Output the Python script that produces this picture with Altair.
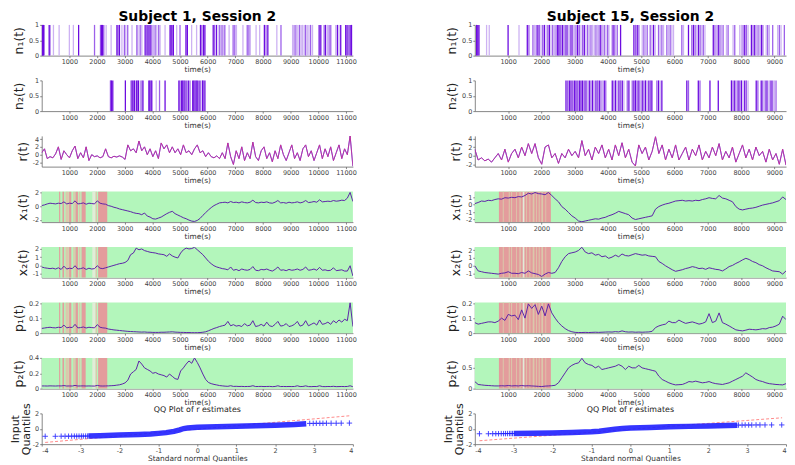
import altair as alt
import numpy as np
import pandas as pd

FONT = "DejaVu Sans"
W, H = 314, 31
GREEN = "#b3f6bb"
RED = "#e39c9c"
MIX = "#dbc8ab"
PALE = "#e2ecd8"
LINE = "#5c22a8"
BLUE = "#3535ff"
PINK = "#ff2f6e"
SPIKE_COLORS = ["#6c0ce0", "#9d60ea", "#cdb2f3"]

# ---------------- Subject 1, Session 2 ----------------
L_TMAX = 11250
L_XTICKS = [1000, 2000, 3000, 4000, 5000, 6000, 7000, 8000, 9000, 10000, 11000]

L_N1_T = [30, 60, 90, 270, 300, 425, 630, 1000, 1145, 1335, 1910, 2125, 2160, 2200, 2245, 2330, 2510,
          2720, 2760, 2810, 2900, 2990, 3040, 3110, 3265, 3440, 3480, 3560, 3620, 3740, 3790, 3840,
          3880, 3920, 3980, 4040, 4100, 4160, 4230, 4280, 4460, 4640, 4680, 4720, 4760, 4880, 5000,
          5215, 5265, 5420, 5600, 5740, 5790, 5850, 5900, 6200, 6250, 6320, 6420, 6470, 6520, 6580,
          6620, 6775, 6920, 6980, 7040, 7275, 7430, 7490, 7540, 7750, 7880, 8050, 8110, 8175, 8500,
          8650, 9070, 9110, 9160, 9210, 9260, 9320, 9380, 9430, 9490, 9540, 9600, 9660, 9720, 9790,
          10030, 10090, 10210, 10260, 10330, 10390, 10450, 10630, 10690, 10750, 10810, 10990, 11040,
          11100, 11150, 11200]
L_N1_LV = [1, 1, 2, 1, 2, 3, 3, 3, 3, 1, 2, 2, 1, 1, 2, 3, 3,
           1, 2, 1, 3, 2, 3, 2, 3, 2, 3, 2, 3, 1, 2, 1,
           2, 1, 2, 3, 2, 3, 2, 3, 3, 1, 1, 2, 1, 3, 2,
           1, 1, 3, 3, 1, 2, 1, 1, 1, 2, 1, 2, 3, 2, 3,
           2, 3, 2, 2, 3, 3, 2, 2, 3, 3, 3, 1, 2, 1, 3,
           2, 3, 3, 2, 3, 3, 2, 3, 3, 3, 2, 3, 3, 2, 3,
           1, 1, 2, 1, 3, 2, 2, 3, 1, 3, 1, 1, 1,
           2, 1, 1]
L_N2_T = [2485, 2520, 2570, 3025, 3230, 3270, 3310, 3350, 3420, 3460, 3500, 3590, 3630, 3660, 3875,
          3910, 3950, 3980, 4140, 4260, 4460, 4960, 5000, 5060, 5100, 5140, 5180, 5240, 5300, 5360,
          5460, 5500, 5540, 5580, 5620, 5660, 5720, 5810, 5850, 5900]
L_N2_LV = [2, 1, 1, 1, 2, 1, 2, 1, 1, 2, 1, 2, 3, 1, 1,
           1, 2, 1, 3, 2, 1, 1, 2, 1, 1, 2, 1, 2, 1, 2,
           1, 1, 2, 1, 1, 2, 1, 1, 2, 1]

L_R = [0.5, 1.5, -1.0, -0.5, -0.8, 0.2, 2.0, -1.2, 1.0, 0.0,
       -0.8, 1.0, 2.2, -1.0, 0.5, -0.8, 2.0, -1.5, 0.0, -0.5,
       -0.3, -0.8, -0.5, 1.5, -0.5, -0.8, -0.4, -0.6, -0.3, -0.6,
       -1.2, 2.5, 1.0, 1.5, 0.5, 3.5, 1.0, 2.0, 0.0, 1.5,
       -0.5, 1.0, -1.0, 3.0, 1.5, 2.5, 0.5, 2.0, 0.5, 1.5,
       0.0, 2.5, 0.5, 1.0, 0.0, 1.5, 2.5, 0.5, 1.0, -0.5,
       0.5, -0.5, -0.8, -0.3, -1.0, 0.5, -1.0, 3.0, -0.5, -2.5,
       1.0, -1.0, 2.0, -1.5, 0.5, -1.0, 3.2, -0.5, -1.5, 1.0,
       2.0, -1.0, 0.5, -1.8, 1.0, -1.0, 2.5, 0.0, -1.5, 0.5,
       2.5, -1.0, 0.5, -1.5, 1.5, 2.5, -0.5, 1.0, -1.5, 0.5,
       2.5, -1.0, 1.5, -0.5, 2.0, -1.5, 0.5, 2.5, -1.0, 1.5,
       0.0, 4.8, -3.0]
L_X1 = [0.1, 0.2, 0.35, 0.45, 0.4, 0.35, 0.45, 0.4, 0.65, 0.35,
        0.45, 0.4, 0.8, 0.35, 0.4, 0.5, 0.3, 0.45, 0.4, 0.35,
        0.8, 0.45, 0.35, 0.3, 0.1, 0.0, -0.15, -0.25, -0.4, -0.5,
        -0.6, -0.7, -0.8, -0.95, -1.05, -1.1, -1.25, -1.0, -1.45, -1.6,
        -1.85, -1.9, -1.75, -1.6, -1.35, -1.1, -0.9, -0.75, -1.1, -1.3,
        -1.5, -1.7, -1.85, -2.05, -2.2, -2.25, -2.1, -1.8, -1.35, -0.95,
        -0.55, -0.2, 0.1, 0.3, 0.5, 0.55, 0.6, 0.5, 0.7, 0.55,
        0.6, 0.5, 0.65, 0.55, 0.5, 0.6, 0.9, 0.55, 0.5, 0.6,
        0.55, 0.65, 0.5, 0.45, 0.6, 0.85, 0.5, 0.55, 0.45, 0.6,
        0.5, 0.55, 0.65, 0.5, 0.6, 0.85, 0.55, 0.6, 0.7, 0.6,
        0.95, 0.65, 0.7, 0.75, 0.7, 0.85, 0.75, 0.8, 0.9, 0.85,
        1.2, 2.05, 0.7]
L_X2 = [-0.2, -0.3, -0.35, -0.4, -0.35, -0.45, -0.3, -0.5, -0.1, -0.45,
        -0.35, -0.4, -0.05, -0.45, -0.4, -0.3, -0.5, -0.35, -0.45, -0.4,
        -0.05, -0.35, -0.4, -0.3, -0.2, -0.1, 0.0, 0.1, 0.2, 0.25,
        0.35, 0.6, 1.3, 1.5, 2.1, 1.9, 2.0, 1.8, 1.7, 1.6,
        1.55, 1.5, 1.4, 1.35, 1.3, 1.1, 1.4, 1.15, 1.0, 0.9,
        1.5, 1.9, 2.1, 2.0, 2.05, 2.2, 1.9, 1.6, 1.3, 0.9,
        0.5, 0.2, -0.05, -0.2, -0.3, -0.4, -0.45, -0.55, -0.2, -0.6,
        -0.5, -0.65, -0.45, -0.55, -0.6, -0.5, -0.15, -0.6, -0.65, -0.5,
        -0.55, -0.45, -0.6, -0.7, -0.5, -0.2, -0.6, -0.55, -0.65, -0.5,
        -0.6, -0.55, -0.45, -0.6, -0.5, -0.2, -0.6, -0.55, -0.45, -0.6,
        -0.25, -0.6, -0.55, -0.65, -0.6, -0.3, -0.65, -0.6, -0.55, -0.7,
        -0.7, -0.05, -1.3]
L_P1 = [0.032, 0.035, 0.038, 0.04, 0.037, 0.036, 0.04, 0.038, 0.055, 0.036,
        0.04, 0.038, 0.06, 0.036, 0.038, 0.042, 0.035, 0.04, 0.038, 0.036,
        0.058, 0.04, 0.036, 0.034, 0.028, 0.025, 0.022, 0.02, 0.018, 0.016,
        0.014, 0.012, 0.011, 0.01, 0.009, 0.008, 0.007, 0.008, 0.006, 0.006,
        0.005, 0.005, 0.005, 0.006, 0.006, 0.007, 0.008, 0.009, 0.007, 0.006,
        0.005, 0.005, 0.004, 0.004, 0.003, 0.003, 0.003, 0.004, 0.006, 0.009,
        0.016, 0.024, 0.032, 0.038, 0.045, 0.05, 0.055, 0.08, 0.05, 0.058,
        0.048, 0.052, 0.045, 0.065, 0.05, 0.055, 0.085, 0.045, 0.05, 0.06,
        0.048, 0.075, 0.05, 0.045, 0.06, 0.08, 0.048, 0.052, 0.065, 0.045,
        0.05, 0.06, 0.08, 0.048, 0.055, 0.085, 0.05, 0.06, 0.07, 0.055,
        0.09, 0.06, 0.065, 0.075, 0.06, 0.085, 0.07, 0.09, 0.075, 0.095,
        0.085, 0.208, 0.045]
L_P2 = [0.035, 0.035, 0.034, 0.036, 0.035, 0.034, 0.036, 0.035, 0.04, 0.034,
        0.035, 0.034, 0.042, 0.034, 0.035, 0.036, 0.034, 0.035, 0.034, 0.033,
        0.042, 0.035, 0.034, 0.035, 0.036, 0.038, 0.04, 0.045, 0.05, 0.06,
        0.075, 0.11, 0.19, 0.22, 0.25, 0.36, 0.32, 0.27, 0.25, 0.23,
        0.2, 0.21, 0.19, 0.18, 0.17, 0.15, 0.19, 0.16, 0.13, 0.12,
        0.23, 0.27, 0.32, 0.36, 0.33, 0.4, 0.34, 0.27, 0.19, 0.12,
        0.08, 0.065, 0.055, 0.048, 0.04, 0.036, 0.032, 0.03, 0.038, 0.029,
        0.03, 0.028, 0.029, 0.027, 0.028, 0.029, 0.038, 0.027, 0.028, 0.029,
        0.027, 0.028, 0.029, 0.026, 0.028, 0.037, 0.027, 0.028, 0.027, 0.028,
        0.027, 0.028, 0.037, 0.027, 0.028, 0.036, 0.027, 0.026, 0.028, 0.027,
        0.037, 0.027, 0.026, 0.028, 0.027, 0.03, 0.026, 0.027, 0.028, 0.027,
        0.028, 0.037, 0.025]
L_BANDS = [(630, 670, "r"), (750, 810, "r"), (860, 980, "m"), (990, 1070, "r"), (1140, 1200, "m"),
           (1220, 1310, "r"), (1340, 1400, "m"), (1440, 1590, "r"), (1830, 1950, "l"),
           (1950, 2000, "m"), (2040, 2370, "r")]
L_QQ_TAIL_X = [-3.91, -3.65, -3.5, -3.4, -3.31, -3.23, -3.16, -3.1, -3.04, -2.98, -2.93, -2.87, -2.82,
               2.89, 2.98, 3.06, 3.15, 3.23, 3.32, 3.44, 3.57, 3.7, 3.91]
L_QQ_TAIL_Y = [-0.98, -0.98, -0.97, -0.97, -0.97, -0.96, -0.96, -0.96, -0.96, -0.95, -0.95, -0.95, -0.95,
               0.7, 0.7, 0.71, 0.71, 0.71, 0.72, 0.72, 0.72, 0.73, 0.74]
L_QQ_X = [-2.8, -2.5, -2.0, -1.5, -1.2, -1.0, -0.8, -0.6, -0.45, -0.35, -0.25, 0.0, 0.5, 1.0, 1.5, 2.0, 2.5, 2.8]
L_QQ_Y = [-0.95, -0.9, -0.82, -0.74, -0.68, -0.6, -0.5, -0.34, -0.15, 0.03, 0.1, 0.2, 0.26, 0.32, 0.38, 0.45, 0.56, 0.66]
L_QQ_REF_X = [-3.91, 3.91]
L_QQ_REF_Y = [-1.78, 1.69]

# ---------------- Subject 15, Session 2 ----------------
R_TMAX = 9350
R_XTICKS = [1000, 2000, 3000, 4000, 5000, 6000, 7000, 8000, 9000]

R_N1_T = [55, 90, 125, 354, 434, 1000, 1328, 1577, 1626, 1746, 1790, 1845, 1895, 1940, 1990, 2040, 2090,
          2143, 2193, 2240, 2290, 2340, 2390, 2441, 2490, 2530, 2580, 2630, 2680, 2740, 2790, 2840,
          2890, 2940, 2990, 3040, 3090, 3140, 3190, 3240, 3290, 3340, 3390, 3440, 3490, 3540, 3590,
          3640, 3690, 3735, 3785, 3840, 3890, 3940, 3990, 4030, 4130, 4180, 4230, 4280, 4380, 4780,
          4830, 4880, 4930, 5030, 5080, 5130, 5180, 5270, 5320, 5370, 5420, 5520, 5570, 5620, 5670,
          5770, 5820, 5870, 5920, 5970, 6220, 6270, 6420, 6520, 6570, 6620, 6670, 6720, 6770, 6820,
          6865, 6915, 7165, 7215, 7265, 7315, 7365, 7410, 7460, 7560, 7610, 7760, 7810, 7960, 8010,
          8060, 8110, 8160, 8210, 8310, 8360, 8410, 8460, 8510, 8560, 8610, 8655, 8755, 8800, 8850,
          8950, 9100, 9150, 9200, 9300]
R_N1_LV = [1, 1, 1, 3, 3, 1, 3, 1, 2, 2, 3, 2, 1, 2, 3, 2, 1,
           3, 2, 1, 3, 2, 3, 2, 1, 1, 2, 1, 2, 1, 2, 3,
           1, 2, 3, 2, 1, 2, 3, 2, 1, 3, 2, 3, 2, 3, 3,
           2, 3, 2, 1, 3, 2, 3, 2, 3, 2, 1, 3, 2, 1, 1,
           2, 1, 2, 3, 2, 3, 2, 2, 3, 1, 3, 2, 3, 2, 3,
           2, 3, 2, 3, 3, 2, 3, 1, 2, 1, 2, 3, 1, 2, 3,
           2, 3, 1, 2, 3, 1, 2, 3, 2, 3, 2, 3, 2, 3, 3,
           2, 1, 2, 3, 1, 2, 1, 3, 2, 3, 1, 2, 3, 2, 3,
           2, 3, 2, 3, 2]
R_N2_T = [2740, 2790, 2840, 2890, 2940, 2990, 3040, 3090, 3140, 3190, 3240, 3290, 3340, 3390, 3440,
          3490, 3540, 3590, 3640, 3690, 3740, 3790, 3840, 3890, 3935, 4130, 4180, 4230, 4280, 4330,
          4380, 4430, 4480, 4580, 4630, 4730, 4780, 4830, 4880, 4930, 4980, 5030, 5080, 5130, 5180,
          5230, 5280, 5320, 5470, 5520, 5570, 5620, 6370, 6420, 6715, 6765, 7065, 7315, 7710, 7760,
          7810, 7860, 7910, 7960, 8010, 8060, 8110, 8160, 8210, 8455, 8505, 8605, 8650, 8700, 8750,
          8800, 8855, 8900, 8950, 9000, 9050]
R_N2_LV = [1, 2, 1, 1, 2, 1, 1, 2, 1, 1, 1, 2, 1, 3, 1,
           2, 1, 3, 1, 2, 1, 2, 3, 1, 2, 1, 2, 1, 3, 1,
           2, 1, 3, 2, 1, 2, 1, 1, 2, 1, 3, 1, 2, 1, 3,
           1, 2, 1, 2, 1, 3, 1, 1, 2, 1, 2, 1, 1, 1, 2,
           1, 3, 1, 2, 1, 3, 1, 2, 3, 1, 2, 1, 2, 3, 1,
           2, 3, 1, 2, 3, 2]

R_R = [1.5, -1.0, -0.5, -1.2, -0.8, -1.5, -0.5, 0.5, -1.0, 1.5,
       -1.5, 0.5, 1.5, -0.5, 2.0, 0.0, 2.8, 0.5, 2.8, -0.5,
       -2.0, 2.0, 2.5, -0.5, 0.5, -1.8, 0.5, -0.5, 1.5, 0.0,
       1.0, -0.5, 3.5, 0.0, 1.5, -1.0, 2.0, 0.5, 2.5, -0.5,
       1.5, -1.0, 2.5, 0.0, 3.0, -0.5, 1.5, -1.5, -2.4, 2.5,
       0.5, 2.0, -1.0, 1.0, 4.4, 0.5, 2.5, -1.0, 1.5, -0.5,
       2.5, -1.0, 0.5, 2.0, -1.0, 1.5, 0.0, 2.5, -1.0, 1.0,
       -0.5, 2.0, 0.0, 2.8, -1.0, 1.0, -0.5, 2.0, -1.5, 0.5,
       2.5, -0.5, 1.5, -1.0, 2.0, 0.0, 1.0, -1.5, 1.5, -1.0,
       0.5, -2.0, 1.5, -2.2]
R_X1 = [0.15, 0.3, 0.5, 0.45, 0.6, 0.55, 0.7, 0.8, 0.75, 0.95,
        0.9, 1.0, 0.95, 1.1, 1.05, 1.25, 1.55, 1.45, 1.65, 1.5,
        1.45, 1.35, 1.65, 1.25, 0.8, 0.4, -0.25, -0.6, -1.05, -1.5,
        -1.8, -2.2, -2.3, -2.2, -2.1, -2.0, -1.9, -1.95, -1.8, -1.7,
        -1.5, -1.35, -1.15, -0.9, -1.05, -1.2, -1.35, -1.8, -2.0, -1.9,
        -1.8, -1.7, -1.6, -1.5, -0.6, -0.25, -0.05, 0.1, 0.2, 0.35,
        0.5, 0.55, 0.6, 0.5, 0.55, 0.5, 0.6, 0.55, 0.7, 0.8,
        0.95, 0.85, 0.8, 1.25, 0.9, 0.8, 0.6, 0.4, -0.25, -0.6,
        -0.7, -0.6, -0.5, -0.45, -0.35, -0.2, -0.05, 0.05, 0.15, 0.25,
        0.4, 0.55, 1.05, 0.7]
R_X2 = [0.0, -0.65, -0.75, -0.85, -0.9, -0.95, -1.0, -1.05, -0.95, -0.9,
        -0.75, -0.95, -0.95, -1.0, -0.85, -0.95, -0.65, -0.9, -1.0, -1.1,
        -1.35, -1.05, -0.85, -0.95, -0.85, -0.25, 0.55, 1.15, 1.55, 1.65,
        1.75, 1.95, 2.35, 1.75, 1.55, 1.65, 1.35, 1.45, 1.15, 1.25,
        0.95, 1.1, 1.35, 1.15, 1.5, 1.3, 1.25, 1.4, 1.55, 1.45,
        1.35, 1.4, 1.25, 1.2, 1.15, 0.55, 0.3, 0.0, -0.25, -0.5,
        -0.7, -0.6, -0.5, -0.35, -0.25, -0.1, -0.2, -0.35, -0.3, -0.45,
        -0.25, -0.35, -0.45, -0.5, -0.65, -0.4, -0.1, 0.05, 0.3, 0.5,
        0.75, 0.95, 0.8, 0.55, 0.4, 0.15, 0.0, -0.25, -0.45, -0.65,
        -0.7, -0.75, -1.05, -0.65]
R_P1 = [0.07, 0.06, 0.065, 0.07, 0.075, 0.075, 0.07, 0.08, 0.1, 0.085,
        0.125, 0.115, 0.12, 0.09, 0.155, 0.1, 0.195, 0.165, 0.19, 0.125,
        0.18, 0.115, 0.195, 0.135, 0.1, 0.07, 0.048, 0.03, 0.017, 0.009,
        0.005, 0.004, 0.004, 0.005, 0.004, 0.005, 0.006, 0.005, 0.006, 0.007,
        0.008, 0.007, 0.01, 0.008, 0.015, 0.009, 0.007, 0.008, 0.006, 0.007,
        0.006, 0.007, 0.008, 0.012, 0.037, 0.048, 0.055, 0.06, 0.08, 0.07,
        0.07, 0.087, 0.075, 0.065, 0.07, 0.075, 0.068, 0.06, 0.065, 0.075,
        0.13, 0.07, 0.08, 0.135, 0.07, 0.06, 0.048, 0.035, 0.022, 0.018,
        0.015, 0.02, 0.026, 0.024, 0.022, 0.025, 0.03, 0.028, 0.037, 0.04,
        0.048, 0.06, 0.113, 0.09]
R_P2 = [0.17, 0.1, 0.09, 0.08, 0.075, 0.07, 0.065, 0.065, 0.07, 0.065,
        0.075, 0.065, 0.07, 0.065, 0.075, 0.065, 0.07, 0.065, 0.06, 0.055,
        0.05, 0.06, 0.065, 0.07, 0.08, 0.14, 0.26, 0.38, 0.5, 0.56,
        0.6, 0.62, 0.73, 0.62, 0.58, 0.56, 0.5, 0.54, 0.46, 0.48,
        0.5, 0.52, 0.54, 0.58, 0.54, 0.46, 0.54, 0.5, 0.5, 0.56,
        0.5, 0.48, 0.46, 0.44, 0.42, 0.3, 0.22, 0.18, 0.14, 0.11,
        0.09, 0.095, 0.1, 0.13, 0.17, 0.16, 0.18, 0.16, 0.14, 0.15,
        0.17, 0.14, 0.12, 0.11, 0.1, 0.12, 0.14, 0.18, 0.22, 0.26,
        0.3, 0.38, 0.33, 0.28, 0.22, 0.19, 0.17, 0.14, 0.12, 0.11,
        0.1, 0.095, 0.09, 0.12]
R_BANDS = [(725, 2285, "r"), (840, 870, "m"), (1020, 1050, "m"), (1090, 1120, "m"), (1240, 1265, "m"),
           (1340, 1380, "m"), (1440, 1490, "l"), (1540, 1565, "m"), (1640, 1670, "m"), (1740, 1790, "m"),
           (1840, 1865, "m"), (1920, 1950, "m"), (2000, 2050, "m"), (2120, 2145, "m")]
R_QQ_TAIL_X = [-3.88, -3.65, -3.54, -3.46, -3.39, -3.32, -3.26, -3.21, -3.16, -3.11, -3.07, -3.03,
               2.78, 2.87, 2.95, 3.04, 3.12, 3.23, 3.33, 3.46, 3.63, 3.89]
R_QQ_TAIL_Y = [-0.65, -0.65, -0.64, -0.64, -0.64, -0.63, -0.63, -0.63, -0.62, -0.62, -0.62, -0.62,
               0.48, 0.48, 0.49, 0.49, 0.49, 0.5, 0.5, 0.5, 0.5, 0.5]
R_QQ_X = [-3.0, -2.5, -2.0, -1.5, -1.0, -0.8, -0.6, -0.4, -0.2, 0.0, 0.5, 1.0, 1.5, 2.0, 2.5, 2.75]
R_QQ_Y = [-0.62, -0.59, -0.55, -0.49, -0.4, -0.32, -0.2, -0.06, 0.04, 0.1, 0.17, 0.25, 0.31, 0.37, 0.43, 0.47]
R_QQ_REF_X = [-3.88, 3.9]
R_QQ_REF_Y = [-1.56, 1.43]

LABEL_EXPR = "'' + datum.value"


# ---------------- helpers ----------------
def xscale(tmax):
    return alt.Scale(domain=[0, tmax], nice=False, zero=False)


def time_axis(ticks):
    return alt.Axis(values=ticks, title="time(s)", labelExpr=LABEL_EXPR, grid=False)


def y_axis(title, ticks):
    return alt.Axis(values=ticks, title=title, labelExpr=LABEL_EXPR, grid=False)


def with_title(ch, title):
    if title is None:
        return ch.properties(width=W, height=H)
    return ch.properties(width=W, height=H, title=alt.TitleParams(
        title, font=FONT, fontSize=14, fontWeight="bold", color="#000", anchor="middle", offset=-2))


def spike_panel(times, levels, tmax, xticks, ytitle, title=None):
    df = pd.DataFrame({"t": times, "lv": levels}).sort_values("lv", ascending=False)
    ch = alt.Chart(df).mark_rule(strokeWidth=1.3).encode(
        x=alt.X("t:Q", scale=xscale(tmax), axis=time_axis(xticks)),
        y=alt.YDatum(0, type="quantitative", scale=alt.Scale(domain=[0, 1], nice=False),
                     axis=y_axis(ytitle, [0, 0.5, 1])),
        y2=alt.Y2Datum(1),
        color=alt.Color("lv:N", scale=alt.Scale(domain=[1, 2, 3], range=SPIKE_COLORS), legend=None),
    )
    return with_title(ch, title)


def series_df(values, tmax):
    return pd.DataFrame({"t": np.linspace(0, tmax, len(values)), "v": values})


def r_panel(values, tmax, xticks, ydom):
    df = series_df(values, tmax)
    x = alt.X("t:Q", scale=xscale(tmax), axis=time_axis(xticks))
    y = alt.Y("v:Q", scale=alt.Scale(domain=ydom, nice=False, zero=False), axis=y_axis("r(t)", [-2, 0, 2, 4]))
    blue = alt.Chart(df).mark_line(color=BLUE, strokeWidth=1, clip=True).encode(x=x, y=y)
    red = alt.Chart(df).mark_line(color=PINK, strokeWidth=1, opacity=0.65, clip=True).encode(x=x, y=y)
    return alt.layer(blue, red).properties(width=W, height=H)


def state_panel(values, tmax, xticks, ydom, yticks, ytitle, bands):
    df = series_df(values, tmax)
    ln = alt.Chart(df).mark_line(color=LINE, strokeWidth=1, clip=True).encode(
        x=alt.X("t:Q", scale=xscale(tmax), axis=time_axis(xticks)),
        y=alt.Y("v:Q", scale=alt.Scale(domain=ydom, nice=False, zero=False), axis=y_axis(ytitle, yticks)))
    bg = alt.Chart(pd.DataFrame({"a": [0]})).mark_rect(color=GREEN).encode(
        x=alt.XDatum(0, type="quantitative", scale=xscale(tmax), axis=time_axis(xticks)),
        x2=alt.X2Datum(tmax), y=alt.value(0), y2=alt.value(H))
    bdf = pd.DataFrame(bands, columns=["s", "e", "k"])
    bd = alt.Chart(bdf).mark_rect(clip=True).encode(
        x=alt.X("s:Q", scale=xscale(tmax), axis=time_axis(xticks)), x2="e:Q",
        y=alt.value(0), y2=alt.value(H),
        color=alt.Color("k:N", scale=alt.Scale(domain=["r", "m", "l"], range=[RED, MIX, PALE]), legend=None))
    return alt.layer(bg, bd, ln).properties(width=W, height=H)


def qq_panel(tx, ty, dx, dy, rx, ry):
    xs = alt.Scale(domain=[-4, 4], nice=False)
    ys = alt.Scale(domain=[-2, 2], nice=False)
    xax = alt.Axis(values=[-4, -3, -2, -1, 0, 1, 2, 3, 4], title="Standard normal Quantiles",
                   labelExpr=LABEL_EXPR, grid=False)
    yax = alt.Axis(values=[-2, 0, 2], title=["Input", "Quantiles"], labelExpr=LABEL_EXPR, grid=False,
                   titleLineHeight=11, titleFontSize=11, titlePadding=1)
    ref = alt.Chart(pd.DataFrame({"x": rx, "y": ry})).mark_line(
        color="#ff5a5a", strokeWidth=0.9, strokeDash=[3, 2], opacity=0.8).encode(
        x=alt.X("x:Q", scale=xs, axis=xax), y=alt.Y("y:Q", scale=ys, axis=yax))
    dense = alt.Chart(pd.DataFrame({"x": dx, "y": dy})).mark_line(
        color="#1f1fff", strokeWidth=5.5, opacity=0.9).encode(
        x=alt.X("x:Q", scale=xs, axis=xax), y=alt.Y("y:Q", scale=ys, axis=yax))
    tail = alt.Chart(pd.DataFrame({"x": tx, "y": ty})).mark_point(
        shape="M-1,0L1,0M0,-1L0,1", size=30, filled=False, color="#1f1fff", strokeWidth=0.9, opacity=0.9).encode(
        x=alt.X("x:Q", scale=xs, axis=xax), y=alt.Y("y:Q", scale=ys, axis=yax))
    return alt.layer(ref, dense, tail).properties(
        width=W, height=H,
        title=alt.TitleParams("QQ Plot of r estimates", font=FONT, fontSize=8, fontWeight="normal",
                              color="#222", anchor="middle", offset=-11.5))


sub = "\u2081"
sub2 = "\u2082"
panels = [
    spike_panel(L_N1_T, L_N1_LV, L_TMAX, L_XTICKS, "n" + sub + "(t)", "Subject 1, Session 2"),
    spike_panel(R_N1_T, R_N1_LV, R_TMAX, R_XTICKS, "n" + sub + "(t)", "Subject 15, Session 2"),
    spike_panel(L_N2_T, L_N2_LV, L_TMAX, L_XTICKS, "n" + sub2 + "(t)"),
    spike_panel(R_N2_T, R_N2_LV, R_TMAX, R_XTICKS, "n" + sub2 + "(t)"),
    r_panel(L_R, L_TMAX, L_XTICKS, [-3.05, 4.8]),
    r_panel(R_R, R_TMAX, R_XTICKS, [-2.55, 4.6]),
    state_panel(L_X1, L_TMAX, L_XTICKS, [-2.35, 2.2], [-2, 0, 2], "x" + sub + "(t)", L_BANDS),
    state_panel(R_X1, R_TMAX, R_XTICKS, [-2.35, 1.8], [-2, -1, 0, 1], "x" + sub + "(t)", R_BANDS),
    state_panel(L_X2, L_TMAX, L_XTICKS, [-1.5, 2.25], [-1, 0, 1, 2], "x" + sub2 + "(t)", L_BANDS),
    state_panel(R_X2, R_TMAX, R_XTICKS, [-1.5, 2.4], [-1, 0, 1, 2], "x" + sub2 + "(t)", R_BANDS),
    state_panel(L_P1, L_TMAX, L_XTICKS, [0, 0.21], [0, 0.1, 0.2], "p" + sub + "(t)", L_BANDS),
    state_panel(R_P1, R_TMAX, R_XTICKS, [0, 0.205], [0, 0.1, 0.2], "p" + sub + "(t)", R_BANDS),
    state_panel(L_P2, L_TMAX, L_XTICKS, [0, 0.4], [0, 0.2, 0.4], "p" + sub2 + "(t)", L_BANDS),
    state_panel(R_P2, R_TMAX, R_XTICKS, [0, 0.74], [0, 0.5], "p" + sub2 + "(t)", R_BANDS),
    qq_panel(L_QQ_TAIL_X, L_QQ_TAIL_Y, L_QQ_X, L_QQ_Y, L_QQ_REF_X, L_QQ_REF_Y),
    qq_panel(R_QQ_TAIL_X, R_QQ_TAIL_Y, R_QQ_X, R_QQ_Y, R_QQ_REF_X, R_QQ_REF_Y),
]

chart = alt.concat(*panels, columns=2, spacing={"row": 25, "column": 123}, bounds="flush").resolve_scale(
    color="independent"
).properties(
    padding={"left": 1, "top": 0, "right": 0, "bottom": 0}
).configure_view(stroke=None).configure_axis(
    labelFont=FONT, titleFont=FONT, labelFontSize=6.5, titleFontSize=7.5, labelColor="#444",
    titleColor="#333", domainColor="#666", tickColor="#666", tickSize=2, labelPadding=1,
    titlePadding=1, titleFontWeight="normal", domainWidth=0.8, tickWidth=0.8
).configure_axisY(titleFontSize=12.5, titleColor="#222", titlePadding=3)

chart.save("out.html", embed_options={"renderer": "svg", "actions": False})
